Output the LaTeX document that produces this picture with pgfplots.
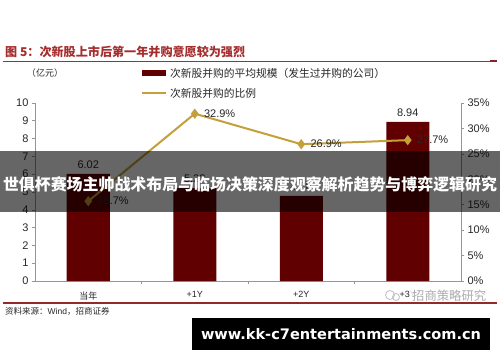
\documentclass[border=0pt]{standalone}
\usepackage{pgfplots}
\pgfplotsset{compat=1.18}
\usepackage{fontspec}
\setmainfont{Liberation Sans}
\newfontfamily\cjk{Noto Sans CJK SC}
\definecolor{barred}{RGB}{96,0,0}
\definecolor{gold}{RGB}{196,160,58}
\definecolor{titlered}{RGB}{165,45,45}
\definecolor{axisgray}{RGB}{150,150,150}
\definecolor{txt}{RGB}{40,40,40}
\begin{document}
\begin{tikzpicture}[x=1pt,y=1pt]
\useasboundingbox (0,0) rectangle (500,362);
\fill[white] (0,0) rectangle (500,362);
% title
\node[anchor=west, text=titlered, inner sep=0pt] at (5,310) {\resizebox{240pt}{!}{\cjk\bfseries 图 5：次新股上市后第一年并购意愿较为强烈}};
\draw[titlered, line width=0.8pt] (3,301) -- (497,301);
\fill[titlered!80!black] (490,300.2) rectangle (497,302);
% unit
\node[text=txt, inner sep=0pt] at (45,289) {\fontsize{9}{10}\selectfont\cjk （亿元）};
% legend
\fill[barred] (142,286) rectangle (166,292);
\node[anchor=west, text=txt, inner sep=0pt] at (170,289) {\resizebox{215pt}{!}{\cjk 次新股并购的平均规模（发生过并购的公司）}};
\draw[gold, line width=2pt] (142,269) -- (166,269);
\node[anchor=west, text=txt, inner sep=0pt] at (170,269) {\resizebox{86pt}{!}{\cjk 次新股并购的比例}};
% bars
\begin{axis}[at={(35pt,81pt)}, anchor=south west, scale only axis,
  width=426pt, height=178pt,
  xmin=-0.5, xmax=3.5, ymin=0, ymax=10,
  ytick={0,1,...,10},
  axis x line*=bottom, axis y line*=left,
  axis line style={axisgray, line width=0.6pt},
  xtick={0,1,2,3},
  xticklabels={{\cjk 当年},+1Y,+2Y,+3Y},
  minor xtick={0.5,1.5,2.5},
  major x tick style={draw=none},
  minor tick length=3pt,
  major tick length=3pt,
  tick align=outside,
  tick style={axisgray, line width=0.6pt},
  yticklabel style={font=\fontsize{11}{12}\selectfont, text=txt},
  xticklabel style={font=\fontsize{9}{10}\selectfont, text=txt, yshift=-4pt},
  /pgf/number format/assume math mode=true,
  ybar, bar width=43pt,
  nodes near coords={\pgfmathprintnumber[fixed,precision=2,fixed zerofill]{\pgfplotspointmeta}},
  every node near coord/.append style={font=\fontsize{11}{12}\selectfont, text=txt, yshift=2pt},
  clip=false,
]
\addplot[fill=barred, draw=none] coordinates {(0,6.02) (1,5.22) (2,4.78) (3,8.94)};
\end{axis}
% line
\begin{axis}[at={(35pt,81pt)}, anchor=south west, scale only axis,
  width=426pt, height=178pt,
  xmin=-0.5, xmax=3.5, ymin=0, ymax=35,
  ytick={0,5,...,35},
  yticklabel={\pgfmathprintnumber{\tick}\%},
  axis x line=none, axis y line*=right,
  axis line style={axisgray, line width=0.6pt},
  tick align=outside, major tick length=3pt,
  tick style={axisgray, line width=0.6pt},
  yticklabel style={font=\fontsize{11}{12}\selectfont, text=txt},
  /pgf/number format/assume math mode=true,
  nodes near coords={\pgfmathprintnumber[fixed,precision=1,fixed zerofill]{\pgfplotspointmeta}\%},
  nodes near coords align={anchor=west},
  every node near coord/.append style={font=\fontsize{11}{12}\selectfont, text=txt, xshift=5pt},
  clip=false,
]
\addplot[gold, line width=2pt, mark=diamond*, mark size=3.5pt, mark options={fill=gold, draw=gold}] coordinates {(0,15.7) (1,32.9) (2,26.9) (3,27.7)};
\end{axis}
% bottom rule and source
\draw[titlered!90!black, line width=1.3pt] (3,59) -- (497,59);
\node[anchor=west, text=txt, inner sep=0pt] at (5,51) {\fontsize{8.5}{10}\selectfont\cjk 资料来源：\rmfamily Wind\cjk ，招商证券};
% watermark of source
\fill[white, opacity=0.85] (410,60.5) rectangle (490,74);
\draw[gray!50, line width=0.8pt] (390,67) circle (4.5);
\draw[gray!50, line width=0.8pt] (396,65) circle (3.5);
\node[anchor=west, text=gray!65, inner sep=0pt] at (412,66) {\resizebox{74pt}{!}{\cjk 招商策略研究}};
% overlay banner
\fill[black, opacity=0.6] (0,150) rectangle (500,211);
\node[text=white, inner sep=0pt] at (250,178) {\resizebox{494pt}{!}{\cjk\bfseries 世俱杯赛场主帅战术布局与临场决策深度观察解析趋势与博弈逻辑研究}};
% url box
\fill[black] (192,12) rectangle (490,44);
\node[text=white, inner sep=0pt] at (341,28) {\resizebox{280pt}{!}{\fontspec{DejaVu Sans}\bfseries www.kk-c7entertainments.com.cn}};
\end{tikzpicture}
\end{document}
